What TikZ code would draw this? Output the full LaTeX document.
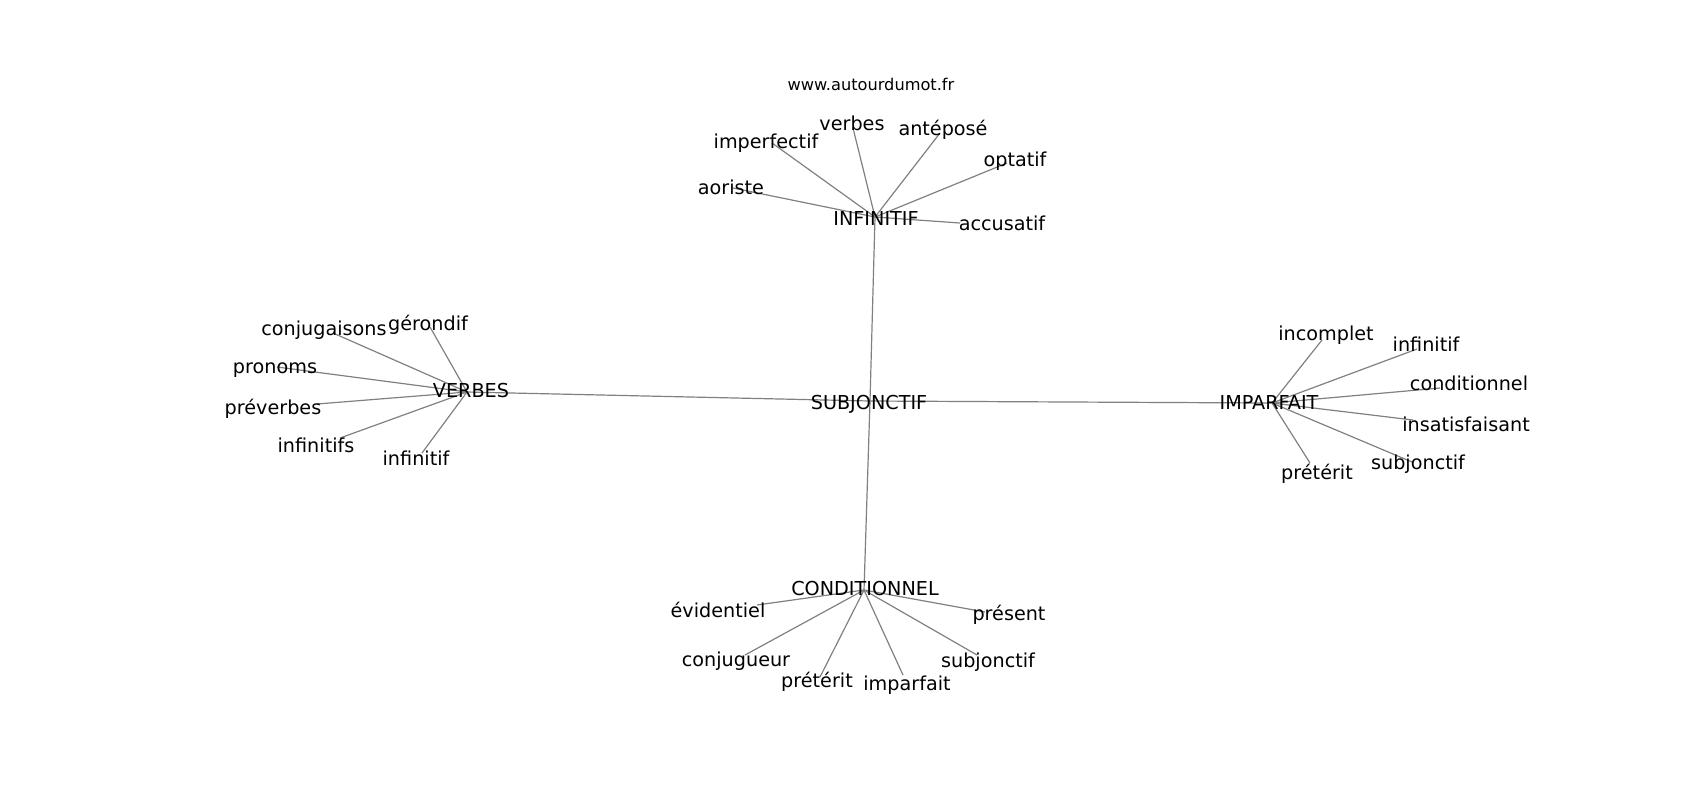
\documentclass[tikz,border=0pt]{standalone}
\usepackage{fontspec}
\setmainfont{DejaVu Sans}

\begin{document}
\begin{tikzpicture}[x=0.5pt, y=-0.5pt,
    word/.style={inner sep=0pt, text height=1ex+2.5pt, text depth=0pt, font=\fontsize{9.6}{11}\selectfont},
    caps/.style={word, text height=1.34ex},
    edge/.style={draw=gray, line width=0.6pt}]
    \useasboundingbox (0,0) rectangle (1700,800);

    % Graph vertices
    \coordinate (subj) at (870,401);
    \coordinate (inf) at (875,217);
    \coordinate (verb) at (467,392);
    \coordinate (imp) at (1272,403);
    \coordinate (cond) at (864,590);

    \coordinate (inf-aor) at (733,188);  \coordinate (inf-imperf) at (772,143);
    \coordinate (inf-verb) at (853,128); \coordinate (inf-ante) at (940,133);
    \coordinate (inf-opt) at (1007,163); \coordinate (inf-acc) at (960,223);

    \coordinate (verb-conj) at (333,333); \coordinate (verb-ger) at (430,327);
    \coordinate (verb-pron) at (277,367); \coordinate (verb-prev) at (317,404);
    \coordinate (verb-infs) at (340,438); \coordinate (verb-inf) at (422,453);

    \coordinate (imp-inc) at (1322,340); \coordinate (imp-inf) at (1417,349);
    \coordinate (imp-cond) at (1440,388); \coordinate (imp-ins) at (1413,420);
    \coordinate (imp-subj) at (1412,462); \coordinate (imp-pret) at (1310,463);

    \coordinate (cond-evid) at (757,605); \coordinate (cond-pres) at (985,612);
    \coordinate (cond-conj) at (745,655); \coordinate (cond-pret) at (820,677);
    \coordinate (cond-imp) at (903,675);  \coordinate (cond-subj) at (977,655);

    % Edges
    \draw[edge] (subj) -- (inf);  \draw[edge] (subj) -- (verb);
    \draw[edge] (subj) -- (imp);  \draw[edge] (subj) -- (cond);

    \draw[edge] (inf) -- (inf-aor);  \draw[edge] (inf) -- (inf-imperf);
    \draw[edge] (inf) -- (inf-verb); \draw[edge] (inf) -- (inf-ante);
    \draw[edge] (inf) -- (inf-opt);  \draw[edge] (inf) -- (inf-acc);

    \draw[edge] (verb) -- (verb-conj); \draw[edge] (verb) -- (verb-ger);
    \draw[edge] (verb) -- (verb-pron); \draw[edge] (verb) -- (verb-prev);
    \draw[edge] (verb) -- (verb-infs); \draw[edge] (verb) -- (verb-inf);

    \draw[edge] (imp) -- (imp-inc);  \draw[edge] (imp) -- (imp-inf);
    \draw[edge] (imp) -- (imp-cond); \draw[edge] (imp) -- (imp-ins);
    \draw[edge] (imp) -- (imp-subj); \draw[edge] (imp) -- (imp-pret);

    \draw[edge] (cond) -- (cond-evid); \draw[edge] (cond) -- (cond-pres);
    \draw[edge] (cond) -- (cond-conj); \draw[edge] (cond) -- (cond-pret);
    \draw[edge] (cond) -- (cond-imp);  \draw[edge] (cond) -- (cond-subj);

    % Labels
    \node[word, font=\fontsize{8.1}{10}\selectfont] (site) at (871,83) {www.autourdumot.fr};

    \node[caps] (l-subj) at (869,402) {SUBJONCTIF};
    \node[caps] (l-inf) at (876,218) {INFINITIF};
    \node[caps] (l-verb) at (471,390) {VERBES};
    \node[caps] (l-imp) at (1269,402) {IMPARFAIT};
    \node[caps] (l-cond) at (865,588) {CONDITIONNEL};

    \node[word] (l-inf-aor) at (731,187) {aoriste};
    \node[word] (l-inf-imperf) at (766,141) {imperfectif};
    \node[word] (l-inf-verb) at (852,123) {verbes};
    \node[word] (l-inf-ante) at (943,128) {antéposé};
    \node[word] (l-inf-opt) at (1015,159) {optatif};
    \node[word] (l-inf-acc) at (1002,223) {accusatif};

    \node[word] (l-verb-conj) at (324,328) {conjugaisons};
    \node[word] (l-verb-ger) at (428,323) {gérondif};
    \node[word] (l-verb-pron) at (275,366) {pronoms};
    \node[word] (l-verb-prev) at (273,407) {préverbes};
    \node[word] (l-verb-infs) at (316,445) {infinitifs};
    \node[word] (l-verb-inf) at (416,458) {infinitif};

    \node[word] (l-imp-inc) at (1326,333) {incomplet};
    \node[word] (l-imp-inf) at (1426,344) {infinitif};
    \node[word] (l-imp-cond) at (1469,383) {conditionnel};
    \node[word] (l-imp-ins) at (1466,424) {insatisfaisant};
    \node[word] (l-imp-subj) at (1418,462) {subjonctif};
    \node[word] (l-imp-pret) at (1317,472) {prétérit};

    \node[word] (l-cond-evid) at (718,610) {évidentiel};
    \node[word] (l-cond-pres) at (1009,613) {présent};
    \node[word] (l-cond-conj) at (736,659) {conjugueur};
    \node[word] (l-cond-pret) at (817,680) {prétérit};
    \node[word] (l-cond-imp) at (907,683) {imparfait};
    \node[word] (l-cond-subj) at (988,660) {subjonctif};
\end{tikzpicture}
\end{document}
